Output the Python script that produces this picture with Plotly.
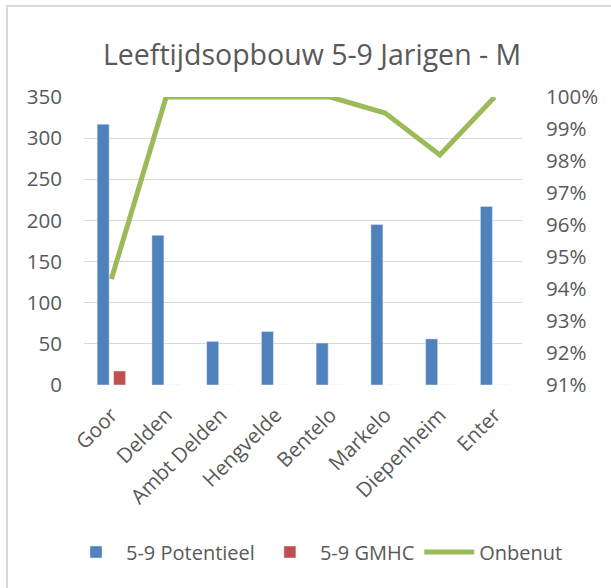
import plotly.graph_objects as go

categories = ["Goor", "Delden", "Ambt Delden", "Hengvelde", "Bentelo", "Markelo", "Diepenheim", "Enter"]
potentieel = [317, 182, 53, 65, 51, 195, 56, 217]
gmhc = [17, 0, 0, 0, 0, 0, 0, 0]
onbenut = [0.9431, 1.0, 1.0, 1.0, 1.0, 0.995, 0.9819, 1.0]

FONT = "Open Sans"
GREY = "#595959"

W, H = 611, 588
ML, MR, MT, MB = 5, 5, 97, 203
PW = W - ML - MR
PX0, PX1 = 84, 522  # plot area pixel bounds


def px(x):
    return (x - ML) / PW


def py(y):
    return (H - MB - y) / (H - MT - MB)


fig = go.Figure()
fig.add_trace(go.Bar(x=categories, y=potentieel, name="5-9 Potentieel", marker_color="#4f81bd"))
fig.add_trace(go.Bar(x=categories, y=gmhc, name="5-9 GMHC", marker_color="#c0504d"))
fig.add_trace(go.Scatter(x=categories, y=onbenut, name="Onbenut", mode="lines",
                         line=dict(color="#9bbb59", width=5), yaxis="y2"))

fig.update_layout(
    width=W, height=H,
    margin=dict(l=ML, r=MR, t=MT, b=MB),
    paper_bgcolor="white", plot_bgcolor="white",
    font=dict(family=FONT, color=GREY, size=20),
    title=dict(text="Leeftijdsopbouw 5-9 Jarigen - M", x=px(312), xanchor="center",
               y=1 - 55 / H, yanchor="middle", font=dict(size=28.5, color=GREY, family=FONT)),
    barmode="group", bargap=0.4, bargroupgap=0.27,
    xaxis=dict(domain=[px(PX0), px(PX1)], tickangle=-45, showgrid=False, showline=False,
               ticks="outside", ticklen=9, tickcolor="rgba(0,0,0,0)",
               automargin=False, tickfont=dict(size=20.5, color=GREY)),
    yaxis=dict(range=[0, 350], dtick=50, showgrid=True, gridcolor="#d9d9d9", gridwidth=1.3,
               zeroline=False, showline=False, ticks="", automargin=False, ticklabelstandoff=21,
               tickfont=dict(size=20.5, color=GREY)),
    yaxis2=dict(range=[0.91, 1.0], dtick=0.01, tickformat=".0%", overlaying="y", side="right",
                anchor="x", showgrid=False, zeroline=False, showline=False, ticks="", automargin=False,
                ticklabelstandoff=23, tickfont=dict(size=20.5, color=GREY)),
    legend=dict(orientation="h", x=px(317), xanchor="center", y=py(552), yanchor="middle",
                font=dict(size=20, color=GREY), itemwidth=50, traceorder="normal"),
    showlegend=True,
)

# chart border (top and left edges visible in the reference)
fig.add_shape(type="rect", xref="paper", yref="paper",
              x0=px(7), x1=px(660), y0=py(640), y1=py(6),
              line=dict(color="#d9d9d9", width=2), fillcolor="rgba(0,0,0,0)", layer="below")

fig.write_html("out.html", config={"displayModeBar": False})

# remove the default body margin so the figure sits at the page origin
with open("out.html", "r", encoding="utf-8") as f:
    html = f.read()
html = html.replace("<body>", '<body style="margin:0;overflow:hidden">', 1)
with open("out.html", "w", encoding="utf-8") as f:
    f.write(html)
